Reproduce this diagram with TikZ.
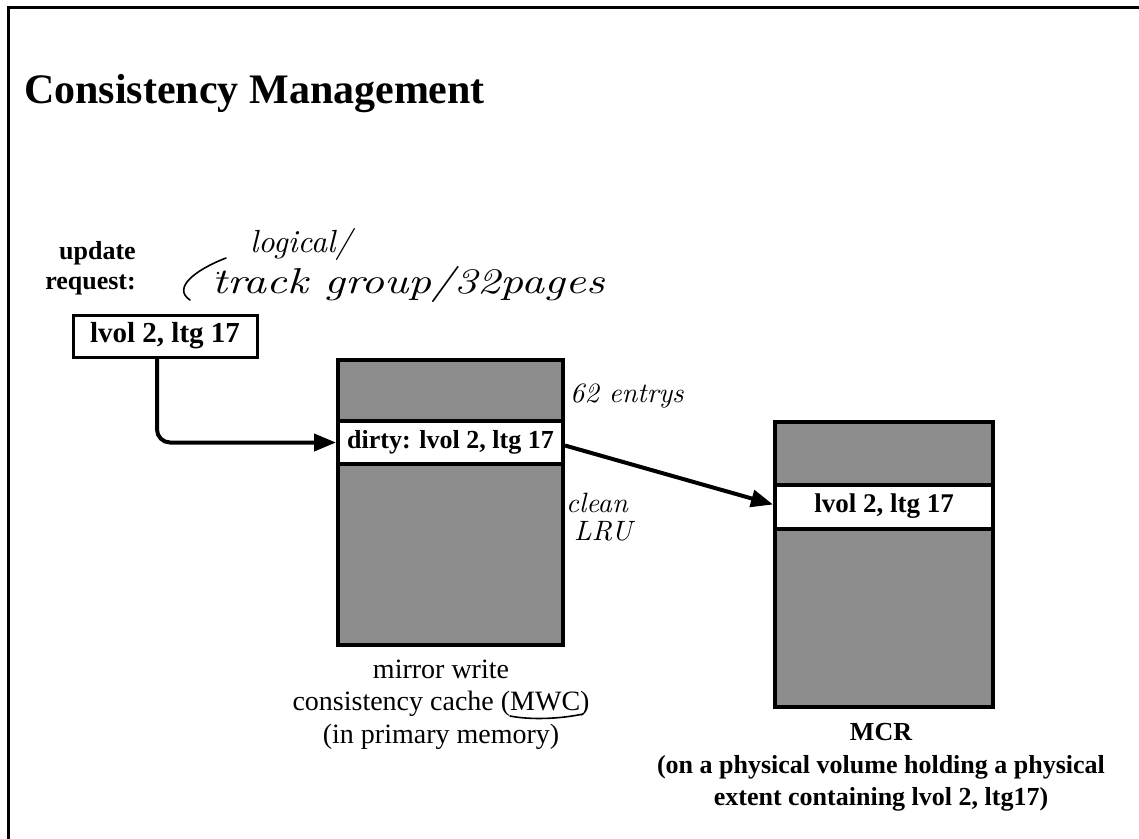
\documentclass[tikz,border=0pt]{standalone}
\usepackage{fontspec}
\setmainfont{Liberation Serif}
\newfontfamily\hand{lmroman10-italic.otf}
\usetikzlibrary{arrows.meta}
\begin{document}
\begin{tikzpicture}[x=1pt,y=-1pt,
  bodyb/.style={font=\fontsize{26}{30}\selectfont\bfseries},
  bodyr/.style={font=\fontsize{28}{32}\selectfont},
  handw/.style={font=\hand\fontsize{#1}{#1}\selectfont, inner sep=0pt},
  store/.style={draw, fill=black!45, line width=4.5pt, inner sep=0pt},
  rowbox/.style={draw, fill=white, line width=4pt, inner sep=0pt, bodyb},
  flow/.style={line width=4pt, -{Triangle[length=22pt,width=17pt]}},
  pen/.style={line width=1.6pt, line cap=round}]
\useasboundingbox (0,0) rectangle (1139,838);
% frame
\draw[line width=3pt] (8,840) -- (8,7) -- (1141,7);
% title
\node[anchor=base west, inner sep=0pt, font=\fontsize{42}{46}\selectfont\bfseries] (title) at (24,103) {Consistency Management};
% update request
\node[anchor=base east, inner sep=0pt, bodyb] (upd1) at (136,259) {update};
\node[anchor=base east, inner sep=0pt, bodyb] (upd2) at (136,289) {request:};
\node[draw, line width=3pt, minimum width=184pt, minimum height=42pt, inner sep=0pt, font=\fontsize{29}{32}\selectfont\bfseries] (req) at (165,336) {lvol 2, ltg 17};
% MWC
\node[store, minimum width=225pt, minimum height=285pt] (mwc) at (450.5,502.5) {};
\node[rowbox, minimum width=225pt, minimum height=43pt] (dirty) at (450.5,442.5) {dirty: lvol 2, ltg 17};
% MCR
\node[store, minimum width=218pt, minimum height=285pt] (mcr) at (884,564.5) {};
\node[rowbox, minimum width=218pt, minimum height=44pt, font=\fontsize{27}{30}\selectfont\bfseries] (mcrrow) at (884,506.5) {lvol 2, ltg 17};
% connectors
\coordinate (a1) at (157,357);
\draw[flow, rounded corners=13pt] (a1) |- (dirty.west);
\draw[flow] ([yshift=-3pt]dirty.east) -- ([yshift=2pt]mcrrow.west);
% labels
\node[anchor=base, inner sep=0pt, bodyr] (m1) at (441,678) {mirror write};
\node[anchor=base, inner sep=0pt, bodyr] (m2) at (441,710) {consistency cache (MWC)};
\node[anchor=base, inner sep=0pt, bodyr] (m3) at (441,743) {(in primary memory)};
\node[anchor=base, inner sep=0pt, bodyb] (c1) at (881,740) {MCR};
\node[anchor=base, inner sep=0pt, bodyb] (c2) at (881,773) {(on a physical volume holding a physical};
\node[anchor=base, inner sep=0pt, bodyb] (c3) at (881,805) {extent containing lvol 2, ltg17)};
% handwriting
\node[handw=32, anchor=base west] (h1) at (250,252) {logical/};
\node[handw=36, anchor=base west, xscale=1.25, transform shape] (h2) at (212,293) {track group/32pages};
\node[handw=28, anchor=base west] (h3) at (570,402) {62 entrys};
\node[handw=28, anchor=base west] (h4) at (566,512) {clean};
\node[handw=28, anchor=base west] (h5) at (574,540) {LRU};
\draw[pen] (226,258) .. controls (195,270) and (172,288) .. (190,300);
\fill (218,273) circle (1.3pt);
\draw[pen] (510,716) .. controls (530,720) and (560,719) .. (583,714);
\end{tikzpicture}
\end{document}
